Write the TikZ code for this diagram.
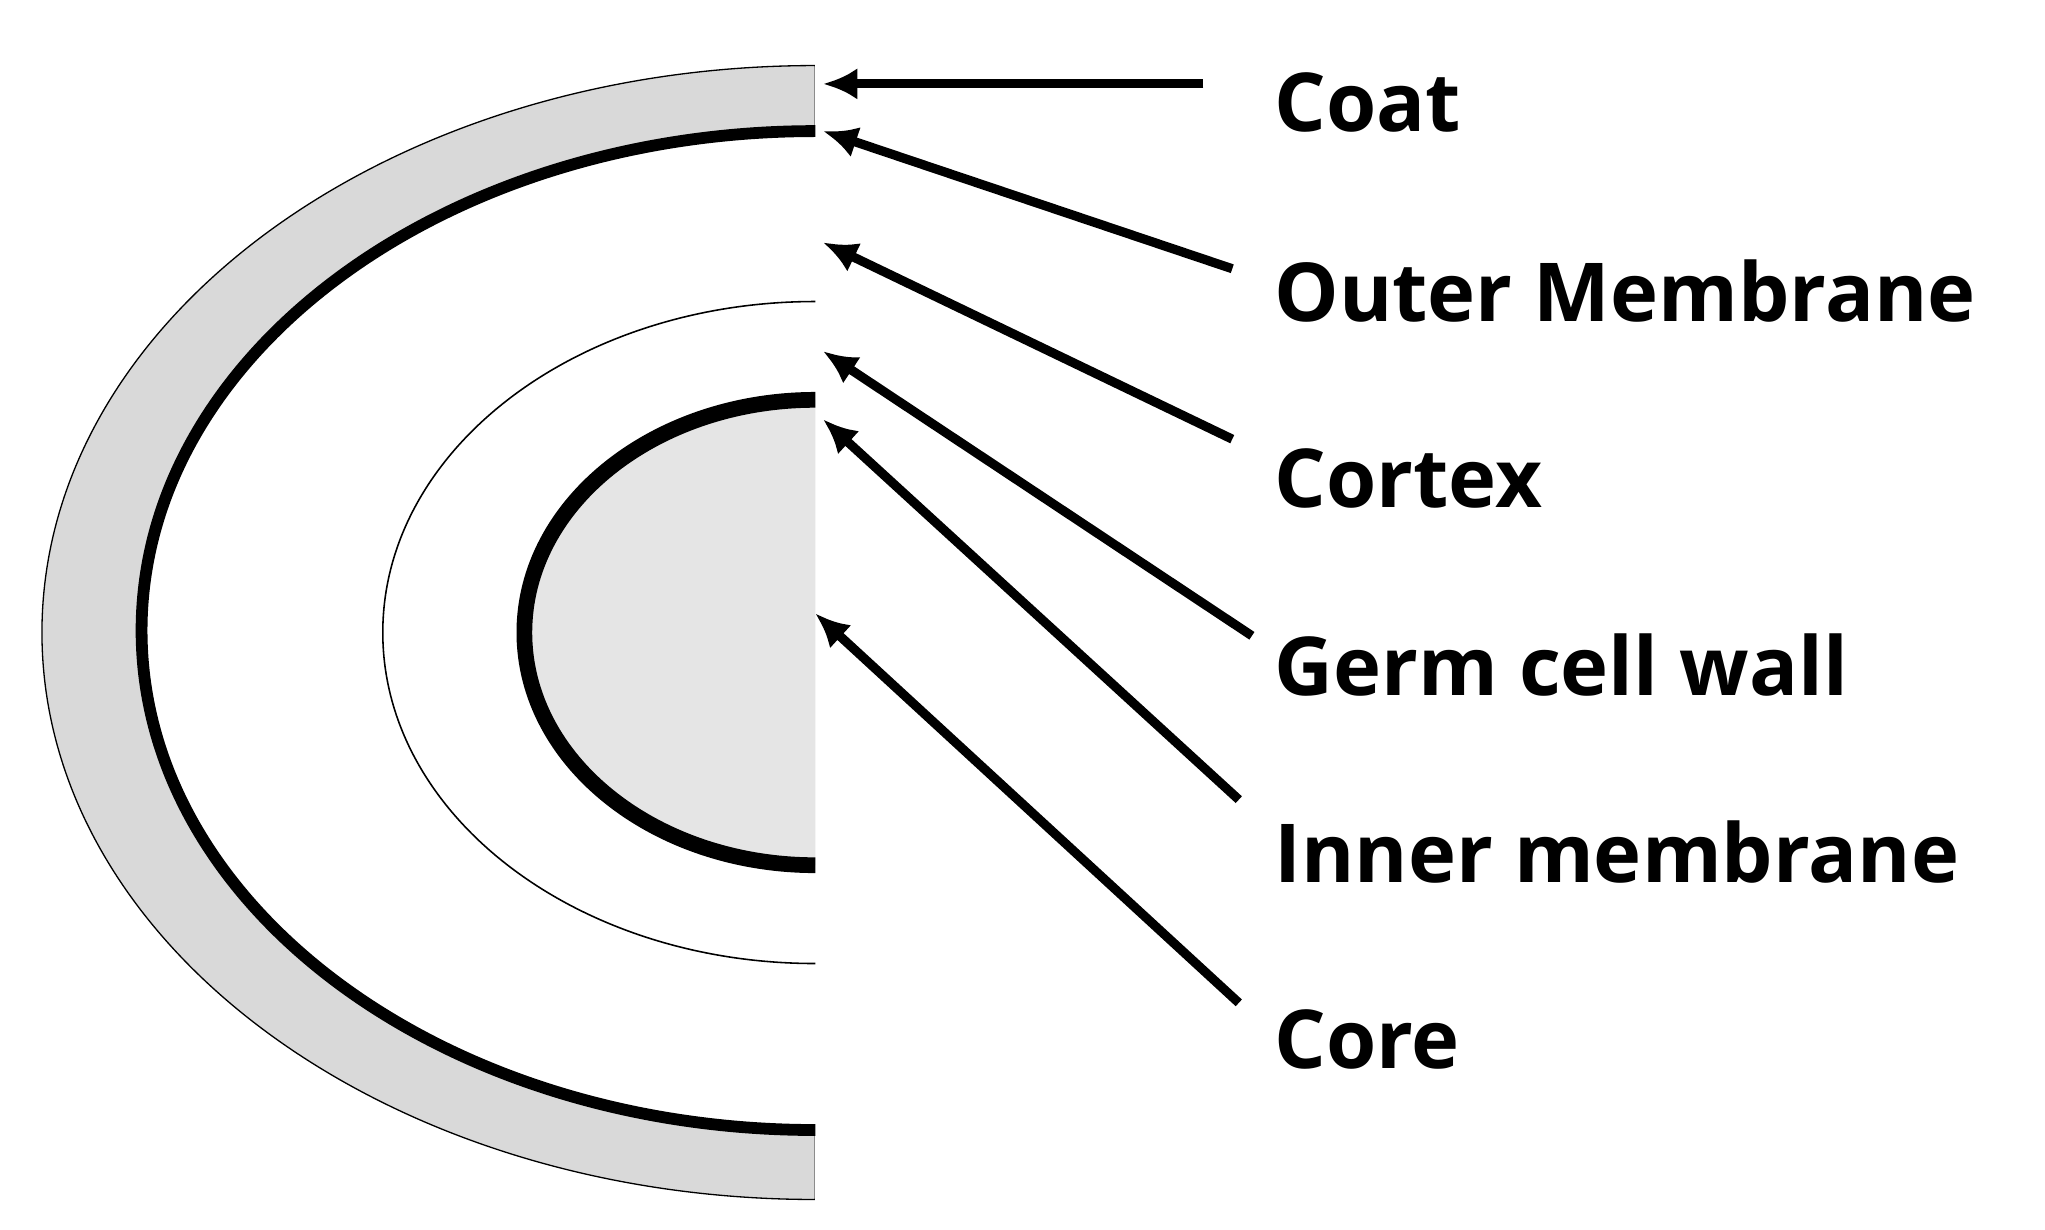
\documentclass[tikz,border=0pt]{standalone}
\usepackage{fontspec}
\setmainfont{Open Sans}
\usetikzlibrary{arrows.meta}
\begin{document}
\begin{tikzpicture}[x=1pt,y=-1pt,
  arr/.style={line width=7pt,-{Latex[length=26pt,width=24pt]}},
  lab/.style={anchor=west,font=\fontsize{62}{70}\selectfont\bfseries,inner sep=0pt}]
\useasboundingbox (0,0) rectangle (1560,938);
% coat
\fill[gray!30,draw=black,line width=1pt] (622,50) arc[start angle=270,end angle=90,x radius=590,y radius=432.5]
  -- (622,862) arc[start angle=90,end angle=270,x radius=514,y radius=381] -- cycle;
\draw[draw=white,line width=3pt] (623.5,40) -- (623.5,925);
% outer membrane
\draw[line width=9pt] (622,100) arc[start angle=270,end angle=90,x radius=514,y radius=381];
% cortex
\draw[line width=1.2pt] (622,230) arc[start angle=270,end angle=90,x radius=330,y radius=252.5];
% core
\fill[gray!20] (622,305) arc[start angle=270,end angle=90,x radius=222,y radius=177.5] -- cycle;
\draw[line width=12pt] (622,305) arc[start angle=270,end angle=90,x radius=222,y radius=177.5];
\coordinate (pcoat) at (628,64);
\coordinate (pom) at (628,100);
\coordinate (pcx) at (628,185);
\coordinate (pgw) at (628,268);
\coordinate (pim) at (628,320);
\coordinate (pcore) at (622,468);
\node[lab] (coat) at (972,78) {Coat};
\node[lab] (om) at (972,222) {Outer Membrane};
\node[lab] (cx) at (972,365) {Cortex};
\node[lab] (gw) at (972,507) {Germ cell wall};
\node[lab] (im) at (972,650) {Inner membrane};
\node[lab] (core) at (972,793) {Core};
\coordinate (a1) at (918,64);
\coordinate (a2) at (940,205);
\coordinate (a3) at (940,335);
\coordinate (a4) at (955,485);
\coordinate (a5) at (945,610);
\coordinate (a6) at (945,765);
\draw[arr] (a1) -- (pcoat);
\draw[arr] (a2) -- (pom);
\draw[arr] (a3) -- (pcx);
\draw[arr] (a4) -- (pgw);
\draw[arr] (a5) -- (pim);
\draw[arr] (a6) -- (pcore);
\end{tikzpicture}
\end{document}
